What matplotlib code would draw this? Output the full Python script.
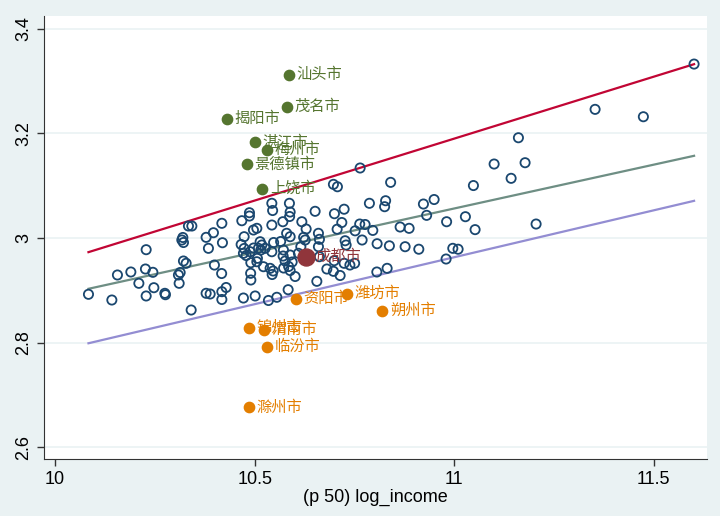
import matplotlib.pyplot as plt

plt.rcParams['font.family'] = ['Liberation Sans', 'Noto Sans CJK SC', 'DejaVu Sans']

# other cities (hollow circles)
log_income = [
    10.0835, 10.1421, 10.1561, 10.1897, 10.2281, 10.2263, 10.2449, 10.2098, 10.2474, 10.2281,
    10.2749, 10.2764, 10.3090, 10.3133, 10.3108, 10.3216, 10.3283, 10.3175, 10.3216, 10.3200,
    10.3409, 10.3784, 10.3967, 10.3842, 10.4193, 10.3992, 10.4173, 10.3784, 10.3885, 10.4178,
    10.4286, 10.4178, 10.4662, 10.3341, 10.3426, 10.4178, 10.4679, 10.4870, 10.4870, 10.4737,
    10.4970, 10.5055, 10.4737, 10.4719, 10.4787, 10.4887, 10.4975, 10.5095, 10.4905, 10.5055,
    10.4900, 10.4719, 10.5013, 10.5346, 10.5556, 10.5840, 10.5431, 10.5451, 10.5872, 10.5890,
    10.5877, 10.5431, 10.5707, 10.5802, 10.6183, 10.6291, 10.6228, 10.5138, 10.5180, 10.5070,
    10.5263, 10.5431, 10.5476, 10.5652, 10.5221, 10.5388, 10.5464, 10.5439, 10.5714, 10.5764,
    10.5890, 10.5940, 10.5727, 10.5852, 10.5890, 10.6015, 10.6098, 10.4905, 10.7644, 10.8409,
    10.6975, 10.7075, 10.6516, 10.7000, 10.7243, 10.7877, 10.8283, 10.8258, 10.9231, 10.9499,
    10.9311, 10.9812, 10.7185, 10.7068, 10.7519, 10.7634, 10.7769, 10.7962, 10.8647, 10.8872,
    10.5155, 10.5890, 10.6266, 10.6599, 10.6624, 10.7268, 10.7293, 10.7694, 10.8070, 10.8378,
    10.8772, 10.9115, 10.9799, 10.6158, 10.6599, 10.6624, 10.5722, 10.6810, 10.6975, 10.7143,
    10.6559, 10.7243, 10.7388, 10.7506, 10.8063, 10.8321, 10.6992, 11.0484, 11.0283, 11.0526,
    10.9967, 11.0100, 11.6015, 11.3534, 11.4744, 11.1612, 11.1003, 11.1779, 11.1429, 11.2055,
]
outcome = [
    2.8925, 2.8816, 2.9294, 2.9351, 2.9777, 2.9408, 2.9345, 2.9135, 2.9051, 2.8893,
    2.8944, 2.8917, 2.9294, 2.9341, 2.9135, 2.9561, 2.9517, 2.9962, 2.9914, 3.0010,
    2.8625, 3.0013, 3.0101, 2.9803, 2.9910, 2.9484, 2.9322, 2.8944, 2.8931, 2.8975,
    2.9055, 2.8826, 2.9876, 3.0229, 3.0229, 3.0281, 3.0330, 3.0483, 3.0420, 3.0025,
    3.0153, 3.0185, 2.9800, 2.9708, 2.9666, 2.9738, 2.9809, 2.9803, 2.9528, 2.9547,
    2.9326, 2.8854, 2.8893, 2.8807, 2.8868, 2.9013, 3.0663, 3.0525, 3.0663, 3.0496,
    3.0411, 3.0248, 3.0311, 3.0090, 3.0311, 3.0172, 3.0013, 2.9929, 2.9866, 2.9612,
    2.9803, 2.9738, 2.9914, 2.9933, 2.9452, 2.9421, 2.9370, 2.9303, 2.9656, 2.9561,
    2.9675, 2.9542, 2.9427, 2.9456, 2.9379, 2.9265, 2.9708, 2.9198, 3.1337, 3.1063,
    3.1025, 3.0979, 3.0510, 3.0464, 3.0550, 3.0663, 3.0712, 3.0598, 3.0649, 3.0735,
    3.0433, 3.0311, 3.0296, 3.0168, 3.0137, 3.0267, 3.0258, 3.0145, 3.0210, 3.0185,
    2.9771, 3.0025, 2.9962, 3.0090, 2.9975, 2.9948, 2.9866, 2.9962, 2.9891, 2.9851,
    2.9834, 2.9786, 2.9599, 2.9834, 2.9834, 2.9643, 2.9771, 2.9408, 2.9364, 2.9284,
    2.9173, 2.9517, 2.9484, 2.9517, 2.9351, 2.9421, 2.9567, 3.1002, 3.0407, 3.0160,
    2.9803, 2.9786, 3.3322, 3.2457, 3.2316, 3.1915, 3.1413, 3.1438, 3.1140, 3.0267,
]

# cities above the upper line
high_names = ['汕头市', '茂名市', '揭阳市', '湛江市', '梅州市', '景德镇市', '上饶市']
high_x = [10.586, 10.581, 10.431, 10.501, 10.531, 10.481, 10.519]
high_y = [3.311, 3.250, 3.227, 3.183, 3.168, 3.141, 3.094]

# cities below the lower line
low_names = ['资阳市', '潍坊市', '朔州市', '锦州市', '渭南市', '临汾市', '滁州市']
low_x = [10.604, 10.732, 10.820, 10.486, 10.524, 10.531, 10.486]
low_y = [2.884, 2.893, 2.861, 2.828, 2.824, 2.792, 2.677]

# highlighted city
city_name = '成都市'
city_x = 10.629
city_y = 2.964

# fitted lines (end points)
fit_x = [10.0835, 11.6015]
fit_upper = [2.973, 3.332]
fit_mid = [2.903, 3.157]
fit_lower = [2.799, 3.071]

bg = '#eaf2f3'
navy = '#1a476f'
green = '#55752f'
orange = '#e37e00'
maroon = '#90353b'

fig = plt.figure(figsize=(7.2, 5.16), dpi=100, facecolor=bg)
ax = fig.add_axes([0.0611, 0.1105, 0.9209, 0.8585])
ax.set_facecolor('white')

ax.scatter(log_income, outcome, s=44, facecolors='none', edgecolors=navy,
           linewidths=1.3, zorder=3)

ax.plot(fit_x, fit_upper, color='#c10534', lw=1.6, zorder=2)
ax.plot(fit_x, fit_mid, color='#6e8e84', lw=1.6, zorder=2)
ax.plot(fit_x, fit_lower, color='#938dd2', lw=1.6, zorder=2)

ax.scatter(high_x, high_y, s=55, color=green, zorder=4)
for n, x, y in zip(high_names, high_x, high_y):
    ax.annotate(n, (x, y), xytext=(5.5, 0), textcoords='offset points',
                va='center', ha='left', color=green, fontsize=11, zorder=5)

ax.scatter(low_x, low_y, s=55, color=orange, zorder=4)
for n, x, y in zip(low_names, low_x, low_y):
    ax.annotate(n, (x, y), xytext=(5.5, 0), textcoords='offset points',
                va='center', ha='left', color=orange, fontsize=11, zorder=5)

ax.scatter([city_x], [city_y], s=150, color=maroon, zorder=4)
ax.annotate(city_name, (city_x, city_y), xytext=(7, 0), textcoords='offset points',
            va='center', ha='left', color=maroon, fontsize=11, zorder=5)

ax.set_xlim(9.972, 11.634)
ax.set_ylim(2.578, 3.424)
ax.set_xticks([10, 10.5, 11, 11.5])
ax.set_xticklabels(['10', '10.5', '11', '11.5'])
ax.set_yticks([2.6, 2.8, 3.0, 3.2, 3.4])
ax.set_yticklabels(['2.6', '2.8', '3', '3.2', '3.4'], rotation=90, va='center')
ax.tick_params(labelsize=13, length=5, width=1, color='#333333')
ax.grid(axis='y', color=bg, lw=1.2, zorder=0)
ax.set_axisbelow(True)
for s in ['top', 'right']:
    ax.spines[s].set_visible(False)
for s in ['left', 'bottom']:
    ax.spines[s].set_color('#333333')
ax.set_xlabel('(p 50) log_income', fontsize=13, labelpad=1)

fig.savefig('out.png', dpi=100, facecolor=bg)
